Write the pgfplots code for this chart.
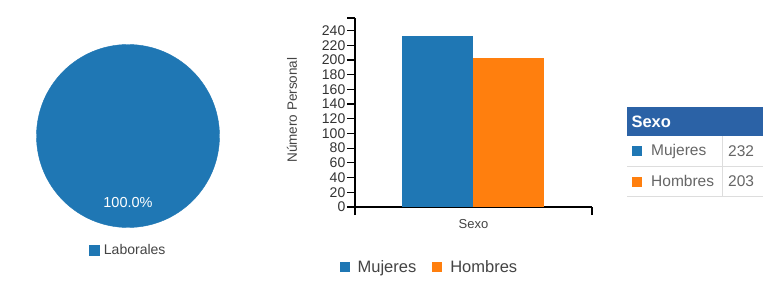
\documentclass[border=0pt]{standalone}
\usepackage{fontspec}
\setmainfont{Liberation Sans}
\usepackage{pgfplots}
\pgfplotsset{compat=1.18}
\definecolor{cblue}{HTML}{1F77B4}
\definecolor{corange}{HTML}{FF7F0E}
\definecolor{chead}{HTML}{2B62A6}
\definecolor{ctext}{HTML}{444444}
\definecolor{cgrid}{HTML}{DDDDDD}
\begin{document}
\begin{tikzpicture}
\path[use as bounding box, fill=white] (0,0) rectangle (781bp,293bp);
% ---------- pie ----------
\begin{axis}[
  at={(128bp,157bp)}, anchor=center,
  width=183bp, height=183bp, scale only axis,
  xmin=-1, xmax=1, ymin=-1, ymax=1,
  hide axis, clip=false,
  legend style={at={(rel axis cs:0.5,-0.123)}, anchor=center, draw=none,
    font=\fontsize{14bp}{16bp}\selectfont, text=ctext, fill=none,
    /tikz/every odd column/.append style={column sep=3bp}},
  legend image code/.code={\fill[cblue] (0bp,-5bp) rectangle (10bp,5bp);},
]
\addplot[only marks, mark=*, mark size=91.5bp, color=cblue,
  point meta=explicit,
  nodes near coords={\pgfmathprintnumber[fixed,fixed zerofill,precision=1,assume math mode=true]{\pgfplotspointmeta}\%},
  every node near coord/.style={anchor=center, yshift=-67bp, text=white,
    font=\fontsize{14.5bp}{16bp}\selectfont}]
  coordinates {(0,0) [100]};
\addlegendentry{Laborales}
\end{axis}
% ---------- bar chart ----------
\begin{axis}[
  at={(355bp,86bp)}, anchor=south west,
  width=237bp, height=189bp, scale only axis,
  xmin=0, xmax=237, ymin=0, ymax=257,
  axis x line*=bottom, axis y line*=left,
  axis line style={black, line width=1.2bp},
  ybar, bar shift=0pt, bar width=71,
  xtick={0,237}, xticklabels={},
  ytick={0,20,...,240}, extra y ticks={257}, extra y tick labels={},
  tick align=outside, major tick length=8bp,
  tick style={black, line width=1.2bp},
  /pgf/number format/assume math mode=true,
  yticklabel style={font=\fontsize{14bp}{14bp}\selectfont, text=black!80, inner sep=1.5bp},
  xlabel={Sexo},
  xlabel style={at={(axis description cs:0.5,0)}, anchor=center, yshift=-17bp,
    font=\fontsize{13bp}{15bp}\selectfont, text=ctext},
  ylabel={Número Personal},
  ylabel style={at={(axis description cs:-0.266,0.513)}, anchor=center,
    font=\fontsize{13.5bp}{15bp}\selectfont, text=ctext},
  legend style={at={(rel axis cs:0.314,-0.317)}, anchor=center, draw=none, fill=none,
    font=\fontsize{16.5bp}{18bp}\selectfont, text=ctext, legend columns=2,
    /tikz/every odd column/.append style={column sep=6bp},
    /tikz/every even column/.append style={column sep=14bp}},
  legend image code/.code={\fill[#1, draw=none] (0bp,-5bp) rectangle (10bp,5bp);},
]
\addplot[fill=cblue, draw=none] coordinates {(82.5,232)};
\addlegendentry{Mujeres}
\addplot[fill=corange, draw=none] coordinates {(153.5,203)};
\addlegendentry{Hombres}
\end{axis}
% ---------- table ----------
\fill[chead] (627bp,157bp) rectangle (763bp,186bp);
\node[anchor=west, text=white, font=\bfseries\fontsize{16.5bp}{18bp}\selectfont] at (628bp,171.5bp) {Sexo};
\draw[cgrid, line width=0.8bp] (627bp,127bp) -- (763bp,127bp);
\draw[cgrid, line width=0.8bp] (627bp,97bp) -- (763bp,97bp);
\draw[cgrid, line width=0.8bp] (722bp,97bp) -- (722bp,157bp);
\node[anchor=west, text=black!60, font=\fontsize{15.5bp}{17bp}\selectfont, inner sep=0pt] at (632bp,142bp) {\textcolor{cblue}{\rule[-0.5bp]{10bp}{10bp}}\hspace{9bp}Mujeres};
\node[anchor=west, text=black!60, font=\fontsize{15.5bp}{17bp}\selectfont, inner sep=0pt] at (632bp,112bp) {\textcolor{corange}{\rule[-0.5bp]{10bp}{10bp}}\hspace{9bp}Hombres};
\node[anchor=west, text=black!60, font=\fontsize{15.5bp}{17bp}\selectfont, inner sep=0pt] at (728bp,142bp) {232};
\node[anchor=west, text=black!60, font=\fontsize{15.5bp}{17bp}\selectfont, inner sep=0pt] at (728bp,112bp) {203};
\end{tikzpicture}
\end{document}
